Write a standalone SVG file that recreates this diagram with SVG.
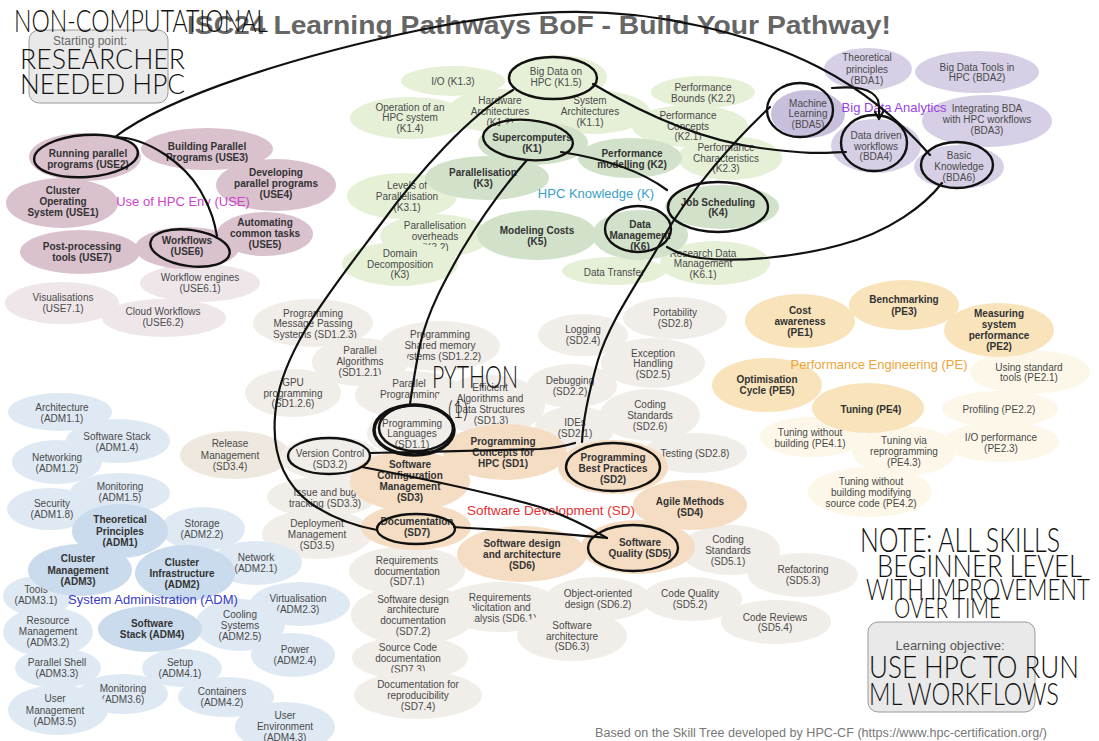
<svg xmlns="http://www.w3.org/2000/svg" width="1099" height="741" viewBox="0 0 1099 741">
<style>
text{font-family:"Liberation Sans",Arial,sans-serif;font-size:10px;fill:#4a4a4a;text-anchor:middle}
.b{font-weight:bold;fill:#333}
.u1{fill:#dac1ce}.u2{fill:#efe6ea}
.k1{fill:#d2e1c9}.k2{fill:#e6f0d7}
.d1{fill:#d6cfe6}.d2{fill:#c8bfdd}
.s1{fill:#f5ddc3}.s2{fill:#f1ede8}
.p1{fill:#f8e3ba}.p2{fill:#fdf7e9}
.a1{fill:#c9dbec}.a2{fill:#dfe9f4}
.lbl{font-size:13px}
.hw{font-family:Lato,"Liberation Sans",sans-serif;font-weight:300;fill:#111;text-anchor:start}
#connectors path{fill:none;stroke:#111;stroke-width:2.2;stroke-linecap:round;stroke-linejoin:round}
.ring{fill:none;stroke:#111;stroke-width:2.4}
.box{fill:#e9e9e9;stroke:#9a9a9a;stroke-width:1}
</style>
<rect width="1099" height="741" fill="#fff"/>
<g id="start-box"><rect class="box" x="29" y="30" width="139" height="73" rx="10"/><text x="90" y="45" style="font-size:12px;fill:#666">Starting point:</text></g>
<g id="objective-box"><rect class="box" x="868" y="622" width="167" height="90" rx="10"/><text x="950" y="650" style="font-size:13px;fill:#555">Learning objective:</text></g>
<text id="title" x="187" y="34" textLength="704" lengthAdjust="spacingAndGlyphs" style="font-size:25px;font-weight:bold;fill:#666;text-anchor:start">ISC24 Learning Pathways BoF - Build Your Pathway!</text>

<!-- USE -->
<g id="use6-1"><ellipse class="u2" cx="200" cy="283" rx="60" ry="19"/><text><tspan x="200" y="280.5">Workflow engines</tspan><tspan x="200" y="291.5">(USE6.1)</tspan></text></g>
<g id="use7-1"><ellipse class="u2" cx="62" cy="303" rx="57" ry="21"/><text><tspan x="63" y="300.5">Visualisations</tspan><tspan x="63" y="311.5">(USE7.1)</tspan></text></g>
<g id="use6-2"><ellipse class="u2" cx="164" cy="318" rx="62" ry="19"/><text><tspan x="163" y="314.5">Cloud Workflows</tspan><tspan x="163" y="325.5">(USE6.2)</tspan></text></g>
<g id="use3"><ellipse class="u1" cx="207" cy="149" rx="66" ry="21"/><text class="b"><tspan x="207" y="150">Building Parallel</tspan><tspan x="207" y="161">Programs (USE3)</tspan></text></g>
<g id="use2"><ellipse class="u1" cx="85" cy="157" rx="56" ry="24"/><text class="b"><tspan x="88" y="157">Running parallel</tspan><tspan x="88" y="168">programs (USE2)</tspan></text></g>
<g id="use1"><ellipse class="u1" cx="62" cy="203" rx="56" ry="25"/><text class="b"><tspan x="63" y="194">Cluster</tspan><tspan x="63" y="205">Operating</tspan><tspan x="63" y="216">System (USE1)</tspan></text></g>
<g id="use4"><ellipse class="u1" cx="276" cy="185" rx="60" ry="26"/><text class="b"><tspan x="276" y="176">Developing</tspan><tspan x="276" y="187">parallel programs</tspan><tspan x="276" y="198">(USE4)</tspan></text></g>
<g id="use5"><ellipse class="u1" cx="265" cy="234" rx="48" ry="22"/><text class="b"><tspan x="265" y="226">Automating</tspan><tspan x="265" y="237">common tasks</tspan><tspan x="265" y="248">(USE5)</tspan></text></g>
<g id="use7"><ellipse class="u1" cx="80" cy="252" rx="60" ry="22"/><text class="b"><tspan x="82" y="250">Post-processing</tspan><tspan x="82" y="261">tools (USE7)</tspan></text></g>
<g id="use6"><ellipse class="u1" cx="187" cy="248" rx="52" ry="21"/><text class="b"><tspan x="187" y="244">Workflows</tspan><tspan x="187" y="255">(USE6)</tspan></text></g>
<text id="lbl-use" class="lbl" x="183" y="206" style="fill:#cc44cc">Use of HPC Env (USE)</text>

<!-- K -->
<g id="k1-3"><ellipse class="k2" cx="453" cy="81" rx="52" ry="15"/><text x="453" y="84.5">I/O (K1.3)</text></g>
<g id="k1-4"><ellipse class="k2" cx="410" cy="118" rx="60" ry="21"/><text><tspan x="410" y="110.5">Operation of an</tspan><tspan x="410" y="121">HPC system</tspan><tspan x="410" y="131.5">(K1.4)</tspan></text></g>
<g id="k1-2"><ellipse class="k2" cx="500" cy="111" rx="52" ry="22"/><text><tspan x="500" y="103.5">Hardware</tspan><tspan x="500" y="114.5">Architectures</tspan><tspan x="500" y="125.5">(K1.2)</tspan></text></g>
<g id="k1-1"><ellipse class="k2" cx="592" cy="112" rx="58" ry="22"/><text><tspan x="590" y="103.5">System</tspan><tspan x="590" y="114.5">Architectures</tspan><tspan x="590" y="126">(K1.1)</tspan></text></g>
<g id="k1-5"><ellipse class="k2" cx="557" cy="77" rx="50" ry="22"/><text><tspan x="556" y="74.5">Big Data on</tspan><tspan x="556" y="85.5">HPC (K1.5)</tspan></text></g>
<g id="k2-2"><ellipse class="k2" cx="703" cy="92" rx="52" ry="16"/><text><tspan x="703" y="90.5">Performance</tspan><tspan x="703" y="101.5">Bounds (K2.2)</tspan></text></g>
<g id="k2-1"><ellipse class="k2" cx="690" cy="126" rx="58" ry="21"/><text><tspan x="688" y="118.5">Performance</tspan><tspan x="688" y="129.5">Concepts</tspan><tspan x="688" y="140">(K2.1)</tspan></text></g>
<g id="k2-3"><ellipse class="k2" cx="730" cy="158" rx="52" ry="22"/><text><tspan x="726" y="150.5">Performance</tspan><tspan x="726" y="161.5">Characteristics</tspan><tspan x="726" y="172">(K2.3)</tspan></text></g>
<g id="k3-1"><ellipse class="k2" cx="402" cy="196" rx="55" ry="23"/><text><tspan x="407" y="188.5">Levels of</tspan><tspan x="407" y="199.5">Parallelisation</tspan><tspan x="407" y="210.5">(K3.1)</tspan></text></g>
<g id="k3-2"><ellipse class="k2" cx="435" cy="236" rx="55" ry="22"/><text><tspan x="435" y="228.5">Parallelisation</tspan><tspan x="435" y="240">overheads</tspan><tspan x="435" y="250.5">(K3.2)</tspan></text></g>
<g id="k3-dd"><ellipse class="k2" cx="400" cy="264" rx="58" ry="22"/><text><tspan x="400" y="256.5">Domain</tspan><tspan x="400" y="267.5">Decomposition</tspan><tspan x="400" y="278">(K3)</tspan></text></g>
<g id="k6-dt"><ellipse class="k2" cx="614" cy="271" rx="52" ry="14"/><text x="614" y="275.5">Data Transfer</text></g>
<g id="k6-1"><ellipse class="k2" cx="715" cy="263" rx="55" ry="22"/><text><tspan x="703" y="256.5">Research Data</tspan><tspan x="703" y="266.5">Management</tspan><tspan x="703" y="277.5">(K6.1)</tspan></text></g>
<g id="k1"><ellipse class="k1" cx="533" cy="143" rx="55" ry="22"/><text class="b"><tspan x="532" y="140.5">Supercomputers</tspan><tspan x="532" y="151.5">(K1)</tspan></text></g>
<g id="k2"><ellipse class="k1" cx="630" cy="158" rx="52" ry="20"/><text class="b"><tspan x="632" y="156.5">Performance</tspan><tspan x="632" y="167.5">modelling (K2)</tspan></text></g>
<g id="k3"><ellipse class="k1" cx="487" cy="178" rx="62" ry="22"/><text class="b"><tspan x="483" y="175.5">Parallelisation</tspan><tspan x="483" y="186.5">(K3)</tspan></text></g>
<g id="k4"><ellipse class="k1" cx="722" cy="207" rx="57" ry="22"/><text class="b"><tspan x="718" y="205.5">Job Scheduling</tspan><tspan x="718" y="216">(K4)</tspan></text></g>
<g id="k5"><ellipse class="k1" cx="537" cy="235" rx="60" ry="25"/><text class="b"><tspan x="537" y="233.5">Modeling Costs</tspan><tspan x="537" y="244.5">(K5)</tspan></text></g>
<g id="k6"><ellipse class="k1" cx="640" cy="235" rx="48" ry="25"/><text class="b"><tspan x="640" y="227.5">Data</tspan><tspan x="640" y="238.5">Management</tspan><tspan x="640" y="249.5">(K6)</tspan></text></g>
<text id="lbl-k" class="lbl" x="596" y="198" style="fill:#3aa0c8">HPC Knowledge (K)</text>

<!-- BDA -->
<g id="bda1"><ellipse class="d1" cx="868" cy="69" rx="44" ry="21"/><text><tspan x="867" y="60.5">Theoretical</tspan><tspan x="867" y="72.5">principles</tspan><tspan x="867" y="83.5">(BDA1)</tspan></text></g>
<g id="bda2"><ellipse class="d1" cx="977" cy="72" rx="62" ry="21"/><text><tspan x="977" y="70.5">Big Data Tools in</tspan><tspan x="977" y="80.5">HPC (BDA2)</tspan></text></g>
<g id="bda3"><ellipse class="d1" cx="987" cy="121" rx="65" ry="26"/><text><tspan x="987" y="111.5">Integrating BDA</tspan><tspan x="987" y="122.5">with HPC workflows</tspan><tspan x="987" y="133.5">(BDA3)</tspan></text></g>
<g id="bda4"><ellipse class="d1" cx="876" cy="146" rx="45" ry="27"/><text><tspan x="876" y="138.5">Data driven</tspan><tspan x="876" y="149.5">workflows</tspan><tspan x="876" y="159.5">(BDA4)</tspan></text></g>
<g id="bda6"><ellipse class="d1" cx="959" cy="167" rx="45" ry="22"/><text><tspan x="959" y="158.5">Basic</tspan><tspan x="959" y="169.5">Knowledge</tspan><tspan x="959" y="180.5">(BDA6)</tspan></text></g>
<g id="bda5"><ellipse class="d2" cx="808" cy="114" rx="37" ry="24"/><text><tspan x="808" y="106.5">Machine</tspan><tspan x="808" y="117">Learning</tspan><tspan x="808" y="128">(BDA5)</tspan></text></g>
<text id="lbl-bda" class="lbl" x="894" y="112" style="fill:#9a3fe0">Big Data Analytics</text>

<!-- SD -->
<g id="sd1-2-3"><ellipse class="s2" cx="313" cy="323" rx="60" ry="24"/><text><tspan x="313" y="316.5">Programming</tspan><tspan x="313" y="326.5">Message Passing</tspan><tspan x="315" y="337.5">Systems (SD1.2.3)</tspan></text></g>
<g id="sd2-8p"><ellipse class="s2" cx="675" cy="318" rx="52" ry="21"/><text><tspan x="675" y="315.5">Portability</tspan><tspan x="675" y="326.5">(SD2.8)</tspan></text></g>
<g id="sd2-4"><ellipse class="s2" cx="583" cy="335" rx="45" ry="21"/><text><tspan x="583" y="332.5">Logging</tspan><tspan x="583" y="343.5">(SD2.4)</tspan></text></g>
<g id="sd1-2-2"><ellipse class="s2" cx="440" cy="346" rx="60" ry="25"/><text><tspan x="440" y="337.5">Programming</tspan><tspan x="440" y="349">Shared memory</tspan><tspan x="440" y="360">systems (SD1.2.2)</tspan></text></g>
<g id="sd1-2-1"><ellipse class="s2" cx="360" cy="362" rx="48" ry="24"/><text><tspan x="360" y="353.5">Parallel</tspan><tspan x="360" y="365">Algorithms</tspan><tspan x="360" y="376">(SD1.2.1)</tspan></text></g>
<g id="sd2-5"><ellipse class="s2" cx="653" cy="363" rx="52" ry="25"/><text><tspan x="653" y="356.5">Exception</tspan><tspan x="653" y="366.5">Handling</tspan><tspan x="653" y="377.5">(SD2.5)</tspan></text></g>
<g id="sd1-2-6"><ellipse class="s2" cx="293" cy="393" rx="48" ry="24"/><text><tspan x="293" y="385.5">GPU</tspan><tspan x="293" y="396.5">programming</tspan><tspan x="293" y="406.5">(SD1.2.6)</tspan></text></g>
<g id="sd2-2"><ellipse class="s2" cx="572" cy="386" rx="45" ry="22"/><text><tspan x="570" y="383.5">Debugging</tspan><tspan x="570" y="395">(SD2.2)</tspan></text></g>
<g id="sd2-6"><ellipse class="s2" cx="650" cy="415" rx="50" ry="26"/><text><tspan x="650" y="407.5">Coding</tspan><tspan x="650" y="418.5">Standards</tspan><tspan x="650" y="430">(SD2.6)</tspan></text></g>
<g id="sd1-2"><ellipse class="s2" cx="410" cy="395" rx="55" ry="24"/><text><tspan x="409" y="386.5">Parallel</tspan><tspan x="410" y="397.5">Programming</tspan></text></g>
<g id="sd1-3"><ellipse class="s2" cx="490" cy="405" rx="55" ry="30"/><text><tspan x="490" y="390.5">Efficient</tspan><tspan x="490" y="401.5">Algorithms and</tspan><tspan x="490" y="412.5">Data Structures</tspan><tspan x="491" y="424">(SD1.3)</tspan></text></g>
<g id="sd2-1"><ellipse class="s2" cx="575" cy="428" rx="40" ry="22"/><text><tspan x="575" y="425.5">IDEs</tspan><tspan x="575" y="436.5">(SD2.1)</tspan></text></g>
<g id="sd3-4"><ellipse class="s2" cx="235" cy="455" rx="55" ry="24" style="fill:#eee8df"/><text><tspan x="230" y="446.5">Release</tspan><tspan x="230" y="458.5">Management</tspan><tspan x="230" y="469.5">(SD3.4)</tspan></text></g>
<g id="sd2-8t"><ellipse class="s2" cx="695" cy="453" rx="52" ry="20"/><text x="695" y="456.5">Testing (SD2.8)</text></g>
<g id="sd3-3"><ellipse class="s2" cx="322" cy="497" rx="55" ry="20"/><text><tspan x="325" y="495.5">Issue and bug</tspan><tspan x="325" y="506.5">tracking (SD3.3)</tspan></text></g>
<g id="sd3-5"><ellipse class="s2" cx="317" cy="534" rx="55" ry="25"/><text><tspan x="317" y="526.5">Deployment</tspan><tspan x="317" y="537.5">Management</tspan><tspan x="317" y="548.5">(SD3.5)</tspan></text></g>
<g id="sd1-1"><ellipse class="s2" cx="412" cy="433" rx="45" ry="24"/><text><tspan x="412" y="426.5">Programming</tspan><tspan x="412" y="436.5">Languages</tspan><tspan x="412" y="447.5">(SD1.1)</tspan></text></g>
<g id="sd3-2"><ellipse class="s2" cx="330" cy="458" rx="50" ry="22"/><text><tspan x="330" y="456.5">Version Control</tspan><tspan x="330" y="467.5">(SD3.2)</tspan></text></g>
<g id="sd5-1"><ellipse class="s2" cx="730" cy="550" rx="50" ry="25"/><text><tspan x="728" y="542.5">Coding</tspan><tspan x="728" y="553.5">Standards</tspan><tspan x="728" y="564.5">(SD5.1)</tspan></text></g>
<g id="sd5-3"><ellipse class="s2" cx="803" cy="575" rx="55" ry="22"/><text><tspan x="803" y="572.5">Refactoring</tspan><tspan x="803" y="583.5">(SD5.3)</tspan></text></g>
<g id="sd7-1"><ellipse class="s2" cx="407" cy="571" rx="58" ry="25"/><text><tspan x="407" y="563.5">Requirements</tspan><tspan x="407" y="574.5">documentation</tspan><tspan x="407" y="584.5">(SD7.1)</tspan></text></g>
<g id="sd6-1"><ellipse class="s2" cx="500" cy="607" rx="60" ry="25"/><text><tspan x="500" y="600.5">Requirements</tspan><tspan x="500" y="610.5">elicitation and</tspan><tspan x="500" y="621.5">analysis (SD6.1)</tspan></text></g>
<g id="sd6-2"><ellipse class="s2" cx="598" cy="599" rx="53" ry="22"/><text><tspan x="598" y="596.5">Object-oriented</tspan><tspan x="598" y="607.5">design (SD6.2)</tspan></text></g>
<g id="sd5-2"><ellipse class="s2" cx="692" cy="599" rx="50" ry="22"/><text><tspan x="690" y="596.5">Code Quality</tspan><tspan x="690" y="607.5">(SD5.2)</tspan></text></g>
<g id="sd5-4"><ellipse class="s2" cx="776" cy="622" rx="55" ry="22"/><text><tspan x="775" y="620.5">Code Reviews</tspan><tspan x="775" y="630.5">(SD5.4)</tspan></text></g>
<g id="sd7-2"><ellipse class="s2" cx="413" cy="615" rx="62" ry="30"/><text><tspan x="413" y="602.5">Software design</tspan><tspan x="413" y="612.5">architecture</tspan><tspan x="413" y="623.5">documentation</tspan><tspan x="413" y="634.5">(SD7.2)</tspan></text></g>
<g id="sd6-3"><ellipse class="s2" cx="572" cy="636" rx="55" ry="25"/><text><tspan x="572" y="628.5">Software</tspan><tspan x="572" y="639.5">architecture</tspan><tspan x="572" y="649.5">(SD6.3)</tspan></text></g>
<g id="sd7-3"><ellipse class="s2" cx="410" cy="658" rx="58" ry="22"/><text><tspan x="408" y="650.5">Source Code</tspan><tspan x="408" y="661.5">documentation</tspan><tspan x="408" y="672.5">(SD7.3)</tspan></text></g>
<g id="sd7-4"><ellipse class="s2" cx="418" cy="695" rx="64" ry="24"/><text><tspan x="418" y="687.5">Documentation for</tspan><tspan x="418" y="698.5">reproducibility</tspan><tspan x="418" y="709.5">(SD7.4)</tspan></text></g>
<g id="sd1"><ellipse class="s1" cx="505" cy="452" rx="62" ry="28"/><text class="b"><tspan x="503" y="444.5">Programming</tspan><tspan x="503" y="455.5">Concepts for</tspan><tspan x="503" y="466.5">HPC (SD1)</tspan></text></g>
<g id="sd2"><ellipse class="s1" cx="613" cy="467" rx="55" ry="27"/><text class="b"><tspan x="613" y="460.5">Programming</tspan><tspan x="613" y="471.5">Best Practices</tspan><tspan x="613" y="482.5">(SD2)</tspan></text></g>
<g id="sd3"><ellipse class="s1" cx="410" cy="481" rx="60" ry="30"/><text class="b"><tspan x="410" y="467.5">Software</tspan><tspan x="410" y="478.5">Configuration</tspan><tspan x="410" y="489.5">Management</tspan><tspan x="410" y="500.5">(SD3)</tspan></text></g>
<g id="sd4"><ellipse class="s1" cx="690" cy="505" rx="57" ry="25"/><text class="b"><tspan x="690" y="504.5">Agile Methods</tspan><tspan x="690" y="515.5">(SD4)</tspan></text></g>
<g id="sd7"><ellipse class="s1" cx="416" cy="527" rx="55" ry="23"/><text class="b"><tspan x="417" y="524.5">Documentation</tspan><tspan x="417" y="535.5">(SD7)</tspan></text></g>
<g id="sd6"><ellipse class="s1" cx="522" cy="554" rx="65" ry="28"/><text class="b"><tspan x="522" y="546.5">Software design</tspan><tspan x="522" y="557.5">and architecture</tspan><tspan x="522" y="568.5">(SD6)</tspan></text></g>
<g id="sd5"><ellipse class="s1" cx="638" cy="547" rx="57" ry="27"/><text class="b"><tspan x="640" y="545.5">Software</tspan><tspan x="640" y="556.5">Quality (SD5)</tspan></text></g>
<text id="lbl-sd" class="lbl" x="551" y="515" style="fill:#e63030;font-size:13.5px">Software Development (SD)</text>

<!-- PE -->
<g id="pe2-1"><ellipse class="p2" cx="1030" cy="372" rx="60" ry="22"/><text><tspan x="1029" y="370.5">Using standard</tspan><tspan x="1029" y="380.5">tools (PE2.1)</tspan></text></g>
<g id="pe2-2"><ellipse class="p2" cx="1000" cy="409" rx="58" ry="18"/><text x="999" y="412.5">Profiling (PE2.2)</text></g>
<g id="pe4-1"><ellipse class="p2" cx="812" cy="437" rx="52" ry="20"/><text><tspan x="810" y="435.5">Tuning without</tspan><tspan x="810" y="446.5">building (PE4.1)</tspan></text></g>
<g id="pe4-3"><ellipse class="p2" cx="904" cy="451" rx="52" ry="25"/><text><tspan x="904" y="443.5">Tuning via</tspan><tspan x="904" y="454.5">reprogramming</tspan><tspan x="904" y="465.5">(PE4.3)</tspan></text></g>
<g id="pe2-3"><ellipse class="p2" cx="1001" cy="442" rx="58" ry="20"/><text><tspan x="1001" y="440.5">I/O performance</tspan><tspan x="1001" y="451.5">(PE2.3)</tspan></text></g>
<g id="pe4-2"><ellipse class="p2" cx="870" cy="492" rx="62" ry="25"/><text><tspan x="871" y="484.5">Tuning without</tspan><tspan x="871" y="495.5">building modifying</tspan><tspan x="871" y="506.5">source code (PE4.2)</tspan></text></g>
<g id="pe1"><ellipse class="p1" cx="800" cy="321" rx="55" ry="27"/><text class="b"><tspan x="800" y="313.5">Cost</tspan><tspan x="800" y="324.5">awareness</tspan><tspan x="800" y="335.5">(PE1)</tspan></text></g>
<g id="pe3"><ellipse class="p1" cx="904" cy="305" rx="55" ry="25"/><text class="b"><tspan x="904" y="302.5">Benchmarking</tspan><tspan x="904" y="314.5">(PE3)</tspan></text></g>
<g id="pe2"><ellipse class="p1" cx="999" cy="330" rx="55" ry="27"/><text class="b"><tspan x="999" y="316.5">Measuring</tspan><tspan x="999" y="327.5">system</tspan><tspan x="999" y="338.5">performance</tspan><tspan x="999" y="349.5">(PE2)</tspan></text></g>
<g id="pe5"><ellipse class="p1" cx="767" cy="385" rx="55" ry="27"/><text class="b"><tspan x="767" y="382.5">Optimisation</tspan><tspan x="767" y="393.5">Cycle (PE5)</tspan></text></g>
<g id="pe4"><ellipse class="p1" cx="868" cy="408" rx="56" ry="25"/><text class="b" x="871" y="412.5">Tuning (PE4)</text></g>
<text id="lbl-pe" class="lbl" x="879" y="369" style="fill:#eda63a">Performance Engineering (PE)</text>

<!-- ADM -->
<g id="adm1-1"><ellipse class="a2" cx="60" cy="412" rx="52" ry="19"/><text><tspan x="62" y="410.5">Architecture</tspan><tspan x="62" y="421.5">(ADM1.1)</tspan></text></g>
<g id="adm1-4"><ellipse class="a2" cx="118" cy="441" rx="52" ry="22"/><text><tspan x="117" y="439.5">Software Stack</tspan><tspan x="117" y="450.5">(ADM1.4)</tspan></text></g>
<g id="adm1-2"><ellipse class="a2" cx="57" cy="462" rx="45" ry="22"/><text><tspan x="57" y="460.5">Networking</tspan><tspan x="57" y="471.5">(ADM1.2)</tspan></text></g>
<g id="adm1-5"><ellipse class="a2" cx="120" cy="493" rx="50" ry="20"/><text><tspan x="120" y="489.5">Monitoring</tspan><tspan x="120" y="500.5">(ADM1.5)</tspan></text></g>
<g id="adm1-8"><ellipse class="a2" cx="50" cy="509" rx="43" ry="21"/><text><tspan x="52" y="506.5">Security</tspan><tspan x="52" y="518">(ADM1.8)</tspan></text></g>
<g id="adm2-2"><ellipse class="a2" cx="203" cy="529" rx="42" ry="22"/><text><tspan x="202" y="526.5">Storage</tspan><tspan x="202" y="537.5">(ADM2.2)</tspan></text></g>
<g id="adm2-1"><ellipse class="a2" cx="256" cy="563" rx="46" ry="22"/><text><tspan x="256" y="560.5">Network</tspan><tspan x="256" y="571.5">(ADM2.1)</tspan></text></g>
<g id="adm3-1"><ellipse class="a2" cx="38" cy="596" rx="35" ry="20"/><text><tspan x="36" y="592.5">Tools</tspan><tspan x="36" y="603.5">(ADM3.1)</tspan></text></g>
<g id="adm2-3"><ellipse class="a2" cx="300" cy="604" rx="50" ry="22"/><text><tspan x="298" y="601.5">Virtualisation</tspan><tspan x="298" y="612.5">(ADM2.3)</tspan></text></g>
<g id="adm3-2"><ellipse class="a2" cx="48" cy="632" rx="45" ry="25"/><text><tspan x="48" y="623.5">Resource</tspan><tspan x="48" y="634.5">Management</tspan><tspan x="48" y="645.5">(ADM3.2)</tspan></text></g>
<g id="adm2-5"><ellipse class="a2" cx="240" cy="625" rx="45" ry="26"/><text><tspan x="240" y="617.5">Cooling</tspan><tspan x="240" y="628.5">Systems</tspan><tspan x="240" y="639.5">(ADM2.5)</tspan></text></g>
<g id="adm2-4"><ellipse class="a2" cx="293" cy="655" rx="42" ry="22"/><text><tspan x="295" y="652.5">Power</tspan><tspan x="295" y="663.5">(ADM2.4)</tspan></text></g>
<g id="adm3-3"><ellipse class="a2" cx="58" cy="668" rx="43" ry="20"/><text><tspan x="57" y="665.5">Parallel Shell</tspan><tspan x="57" y="676.5">(ADM3.3)</tspan></text></g>
<g id="adm4-1"><ellipse class="a2" cx="182" cy="668" rx="40" ry="19"/><text><tspan x="180" y="665.5">Setup</tspan><tspan x="180" y="676.5">(ADM4.1)</tspan></text></g>
<g id="adm3-6"><ellipse class="a2" cx="123" cy="694" rx="45" ry="20"/><text><tspan x="123" y="691.5">Monitoring</tspan><tspan x="123" y="702.5">(ADM3.6)</tspan></text></g>
<g id="adm4-2"><ellipse class="a2" cx="226" cy="697" rx="48" ry="20"/><text><tspan x="222" y="694.5">Containers</tspan><tspan x="222" y="705.5">(ADM4.2)</tspan></text></g>
<g id="adm3-5"><ellipse class="a2" cx="58" cy="710" rx="50" ry="25"/><text><tspan x="55" y="701.5">User</tspan><tspan x="55" y="713.5">Management</tspan><tspan x="55" y="724.5">(ADM3.5)</tspan></text></g>
<g id="adm4-3"><ellipse class="a2" cx="285" cy="727" rx="50" ry="25"/><text><tspan x="285" y="718.5">User</tspan><tspan x="285" y="729.5">Environment</tspan><tspan x="285" y="740.5">(ADM4.3)</tspan></text></g>
<g id="adm1"><ellipse class="a1" cx="120" cy="531" rx="48" ry="27"/><text class="b"><tspan x="120" y="522.5">Theoretical</tspan><tspan x="120" y="534.5">Principles</tspan><tspan x="120" y="545.5">(ADM1)</tspan></text></g>
<g id="adm3"><ellipse class="a1" cx="80" cy="570" rx="52" ry="26"/><text class="b"><tspan x="78" y="561.5">Cluster</tspan><tspan x="78" y="573.5">Management</tspan><tspan x="78" y="584.5">(ADM3)</tspan></text></g>
<g id="adm2"><ellipse class="a1" cx="185" cy="573" rx="50" ry="28"/><text class="b"><tspan x="182" y="565.5">Cluster</tspan><tspan x="182" y="576.5">Infrastructure</tspan><tspan x="182" y="587.5">(ADM2)</tspan></text></g>
<g id="adm4"><ellipse class="a1" cx="150" cy="629" rx="52" ry="23"/><text class="b"><tspan x="152" y="626.5">Software</tspan><tspan x="152" y="637.5">Stack (ADM4)</tspan></text></g>
<text id="lbl-adm" class="lbl" x="153" y="604" style="fill:#3a3ac8">System Administration (ADM)</text>

<text id="footer" x="595" y="737" textLength="452" lengthAdjust="spacingAndGlyphs" style="font-size:12.5px;fill:#777;text-anchor:start">Based on the Skill Tree developed by HPC-CF (https://www.hpc-certification.org/)</text>

<!-- hand-drawn rings -->
<g id="rings">
<ellipse class="ring" cx="86" cy="156" rx="52" ry="21" transform="rotate(-4 86 156)"/>
<ellipse class="ring" cx="190" cy="248" rx="40" ry="18" transform="rotate(8 190 248)"/>
<ellipse class="ring" cx="553" cy="78" rx="44" ry="21"/>
<ellipse class="ring" cx="528" cy="140" rx="45" ry="20" transform="rotate(5 528 140)"/>
<ellipse class="ring" cx="718" cy="207" rx="50" ry="25"/>
<ellipse class="ring" cx="638" cy="229" rx="33" ry="23"/>
<ellipse class="ring" cx="800" cy="110" rx="33" ry="27"/>
<ellipse class="ring" cx="874" cy="143" rx="33" ry="28"/>
<ellipse class="ring" cx="957" cy="165" rx="36" ry="23"/>
<ellipse class="ring" cx="414" cy="430" rx="40" ry="25" style="stroke-width:3.5"/>
<ellipse class="ring" cx="416" cy="428" rx="37" ry="23" style="stroke-width:2.5"/>
<ellipse class="ring" cx="329" cy="456" rx="41" ry="18"/>
<ellipse class="ring" cx="613" cy="467" rx="47" ry="24"/>
<ellipse class="ring" cx="416" cy="529" rx="39" ry="15"/>
<ellipse class="ring" cx="633" cy="548" rx="45" ry="23"/>
</g>

<!-- connectors -->
<g id="connectors">
<path d="M115,137 C170,95 300,55 420,30 S620,8 700,26 S860,75 930,155"/>
<path d="M115,137 C150,138 185,165 200,190 C212,210 215,225 217,236"/>
<path d="M593,84 C640,112 700,140 760,148 S830,152 846,152"/>
<path d="M832,88 C855,86 872,88 878,100 C880,108 879,113 879,118 M875,112 L879,119 L883,112"/>
<path d="M770,107 C735,140 690,190 662,240 C640,280 610,320 598,360 C588,395 583,420 582,442"/>
<path d="M942,183 C925,205 890,232 840,245 C800,256 740,263 700,258 C685,256 675,252 667,247"/>
<path d="M561,152 C600,158 640,170 667,190"/>
<path d="M527,160 C505,185 480,220 462,250 C445,280 428,310 420,345 C415,370 412,390 410,404"/>
<path d="M513,90 C470,115 420,170 380,225 C335,285 290,340 278,395 C268,445 280,480 310,503 C335,520 360,527 377,530"/>
<path d="M370,453 C420,452 500,450 540,449 C555,448 565,446 575,443"/>
<path d="M362,467 C420,478 480,490 540,507 C570,517 590,528 607,538"/>
<path d="M454,527 C500,530 560,533 607,538"/>
</g>

<!-- handwriting -->
<g id="handwriting">
<text class="hw" x="14" y="32" textLength="254" lengthAdjust="spacingAndGlyphs" style="font-size:31px">NON-COMPUTATIONAL</text>
<text class="hw" x="20" y="69" textLength="165" lengthAdjust="spacingAndGlyphs" style="font-size:28px">RESEARCHER</text>
<text class="hw" x="20" y="94" textLength="165" lengthAdjust="spacingAndGlyphs" style="font-size:28px">NEEDED HPC</text>
<text class="hw" x="432" y="388" textLength="86" lengthAdjust="spacingAndGlyphs" style="font-size:32px">PYTHON</text>
<text class="hw" x="448" y="418" textLength="20" lengthAdjust="spacingAndGlyphs" style="font-size:24px">(1)</text>
<text class="hw" x="860" y="552" textLength="200" lengthAdjust="spacingAndGlyphs" style="font-size:33px">NOTE: ALL SKILLS</text>
<text class="hw" x="877" y="577" textLength="205" lengthAdjust="spacingAndGlyphs" style="font-size:31px">BEGINNER LEVEL</text>
<text class="hw" x="866" y="600" textLength="224" lengthAdjust="spacingAndGlyphs" style="font-size:29px">WITH IMPROVEMENT</text>
<text class="hw" x="894" y="618" textLength="107" lengthAdjust="spacingAndGlyphs" style="font-size:27px">OVER TIME</text>
<text class="hw" x="869" y="678" textLength="210" lengthAdjust="spacingAndGlyphs" style="font-size:31px">USE HPC TO RUN</text>
<text class="hw" x="869" y="705" textLength="190" lengthAdjust="spacingAndGlyphs" style="font-size:31px">ML WORKFLOWS</text>
</g>
</svg>
